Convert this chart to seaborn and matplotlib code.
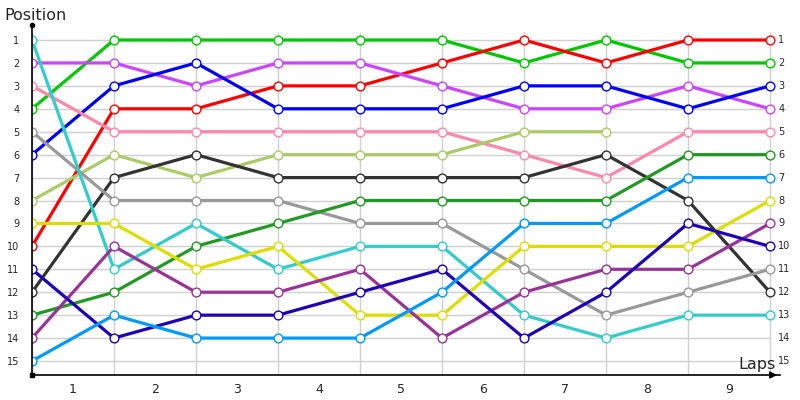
import matplotlib
matplotlib.use("Agg")
import matplotlib.pyplot as plt
import seaborn as sns
import pandas as pd
import numpy as np

# positions after each lap point (index 0..9), None = retired
drivers = ["green", "red", "magenta", "blue", "pink", "lightgreen", "black",
           "gray", "darkgreen", "cyan", "yellow", "purple", "navy", "lightblue"]
colors = ["#00c800", "#ff0000", "#cc44ff", "#0000ff", "#ff88aa", "#aacc66", "#333333",
          "#999999", "#229922", "#33cccc", "#dddd00", "#993399", "#1f00bb", "#0099ff"]
positions = [
    [4, 1, 1, 1, 1, 1, 2, 1, 2, 2],
    [10, 4, 4, 3, 3, 2, 1, 2, 1, 1],
    [2, 2, 3, 2, 2, 3, 4, 4, 3, 4],
    [6, 3, 2, 4, 4, 4, 3, 3, 4, 3],
    [3, 5, 5, 5, 5, 5, 6, 7, 5, 5],
    [8, 6, 7, 6, 6, 6, 5, 5, None, None],
    [12, 7, 6, 7, 7, 7, 7, 6, 8, 12],
    [5, 8, 8, 8, 9, 9, 11, 13, 12, 11],
    [13, 12, 10, 9, 8, 8, 8, 8, 6, 6],
    [1, 11, 9, 11, 10, 10, 13, 14, 13, 13],
    [9, 9, 11, 10, 13, 13, 10, 10, 10, 8],
    [14, 10, 12, 12, 11, 14, 12, 11, 11, 9],
    [11, 14, 13, 13, 12, 11, 14, 12, 9, 10],
    [15, 13, 14, 14, 14, 12, 9, 9, 7, 7],
]
lap_labels = ["1", "2", "3", "4", "5", "6", "7", "8", "9"]
pos_labels = [str(i) for i in range(1, 16)]

rows = []
for d, pos in zip(drivers, positions):
    for i, p in enumerate(pos):
        if p is not None:
            rows.append({"driver": d, "lap": i, "pos": p})
df = pd.DataFrame(rows)

sns.set_style("white")
plt.rcParams['font.family'] = ['DejaVu Sans']

fig = plt.figure(figsize=(8, 4), dpi=100)
ax = fig.add_axes([0.04, 0.0625, 0.935, 0.875])

npts = 10
ax.set_xlim(0, 9 * 748 / 738)
ax.set_ylim(15.61, 0.346)

# grid
ax.hlines(range(1, 16), 0, npts - 1, color="#d0d0d0", lw=1, zorder=0)
ax.vlines(range(npts), 0.65, 15.61, color="#d0d0d0", lw=1, zorder=0)

sns.lineplot(data=df, x="lap", y="pos", hue="driver", hue_order=drivers,
             palette=dict(zip(drivers, colors)), estimator=None, sort=False,
             marker="o", markersize=6.3, linewidth=2.3, legend=False, ax=ax)
for line in ax.lines:
    line.set_markerfacecolor("white")
    line.set_markeredgecolor(line.get_color())
    line.set_markeredgewidth(1.0)

for s in ["top", "right"]:
    ax.spines[s].set_visible(False)
for s in ["left", "bottom"]:
    ax.spines[s].set_color("black")
    ax.spines[s].set_linewidth(1.2)

ax.set_xticks(np.arange(len(lap_labels)) + 0.5)
ax.set_xticklabels(lap_labels, fontsize=9)
ax.set_yticks(range(1, 16))
ax.set_yticklabels(pos_labels, fontsize=7)
ax.tick_params(axis="both", length=0)
ax.tick_params(axis="y", pad=9)
ax.tick_params(axis="x", pad=6)
ax.set_xlabel("")
ax.set_ylabel("")

# right side labels
for p in range(1, 16):
    ax.text(npts - 1 + 0.1, p, str(p), fontsize=7, va="center", ha="left")

# axis decorations
ax.plot([0], [0.346], marker="o", color="black", markersize=3, clip_on=False)
ax.plot([0], [15.61], marker="s", color="black", markersize=2.5, clip_on=False)
ax.annotate("", xy=(9 * 748 / 738, 15.61), xytext=(9.0, 15.61),
            arrowprops=dict(arrowstyle="-|>", color="black", lw=1.2,
                            mutation_scale=10),
            annotation_clip=False)

fig.text(4 / 800, 1 - 15 / 400, "Position", fontsize=11.5, va="center", ha="left")
fig.text(776 / 800, 1 - 364 / 400, "Laps", fontsize=11.5, va="center", ha="right")

fig.savefig("out.png", dpi=100)
